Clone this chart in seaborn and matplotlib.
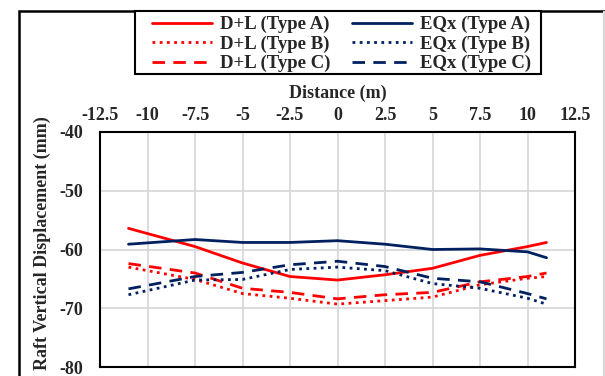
import matplotlib
matplotlib.use("Agg")
import matplotlib.pyplot as plt
import seaborn as sns
import pandas as pd
from matplotlib.patches import Rectangle

sns.set_theme(style="white")
plt.rcParams["font.family"] = ["Liberation Serif", "DejaVu Serif"]
plt.rcParams["font.weight"] = "bold"
plt.rcParams["axes.unicode_minus"] = False

# Distance along the raft (m)
distance = [-11, -7.5, -5, -2.5, 0, 2.5, 5, 7.5, 10, 11]

# Raft vertical displacement (mm)
dl_type_a = [-56.4, -59.5, -62.3, -64.6, -65.2, -64.3, -63.2, -61.0, -59.5, -58.8]
dl_type_b = [-63.0, -65.1, -67.5, -68.3, -69.3, -68.7, -68.1, -66.0, -64.9, -64.6]
dl_type_c = [-62.4, -64.0, -66.6, -67.3, -68.4, -67.7, -67.3, -65.5, -64.6, -64.0]
eqx_type_a = [-59.1, -58.3, -58.8, -58.8, -58.5, -59.1, -60.0, -59.9, -60.4, -61.4]
eqx_type_b = [-67.7, -65.2, -65.1, -63.4, -63.0, -63.6, -65.8, -66.6, -68.3, -69.3]
eqx_type_c = [-66.7, -64.6, -63.9, -62.6, -62.0, -62.9, -64.9, -65.5, -67.5, -68.4]

x_ticks = [-12.5, -10, -7.5, -5, -2.5, 0, 2.5, 5, 7.5, 10, 12.5]
y_ticks = [-80, -70, -60, -50, -40]

RED = "#FF0000"
NAVY = "#002060"
DOT = (0, (1, 1.6))
DASH = (0, (4.5, 3))

# Listed column by column for the two-column legend
series = [
    ("D+L (Type A)", dl_type_a, RED, "-"),
    ("D+L (Type B)", dl_type_b, RED, DOT),
    ("D+L (Type C)", dl_type_c, RED, DASH),
    ("EQx (Type A)", eqx_type_a, NAVY, "-"),
    ("EQx (Type B)", eqx_type_b, NAVY, DOT),
    ("EQx (Type C)", eqx_type_c, NAVY, DASH),
]

FS = 13
W, H = 605, 376
fig = plt.figure(figsize=(W / 100, H / 100), dpi=100)
ax = fig.add_axes([100 / W, 1 - 367 / H, 475 / W, 235 / H])

for name, vals, color, ls in series:
    df = pd.DataFrame({"Distance": distance, "Disp": vals})
    sns.lineplot(data=df, x="Distance", y="Disp", ax=ax, color=color,
                 linestyle=ls, linewidth=2.0, label=name, sort=False,
                 legend=False)

ax.set_xlim(-12.5, 12.5)
ax.set_ylim(-80, -40)
ax.set_xticks(x_ticks)
ax.set_xticklabels([f"{t:g}" for t in x_ticks])
ax.set_yticks(y_ticks)
ax.set_yticklabels([f"{t:g}" for t in y_ticks])
ax.xaxis.tick_top()
ax.xaxis.set_label_position("top")
ax.tick_params(axis="x", length=0, labelsize=FS, pad=6)
ax.tick_params(axis="y", length=0, labelsize=FS, pad=12)
for lbl in ax.get_xticklabels() + ax.get_yticklabels():
    lbl.set_fontweight("bold")
ax.grid(True, color="#d9d9d9", linewidth=1.3)
for sp in ax.spines.values():
    sp.set_color("black")
    sp.set_linewidth(1.5)
    sp.set_visible(True)

ax.set_xlabel("Distance (m)", fontsize=FS, fontweight="bold", labelpad=6)
ax.set_ylabel("Raft Vertical Displacement (mm)", fontsize=FS,
              fontweight="bold")
ax.yaxis.set_label_coords(-0.104, 0.527)

# Outer chart frame
fig.add_artist(Rectangle((19 / W, -0.1), (604 - 19) / W, 1.1 - 11 / H,
                         transform=fig.transFigure, fill=False,
                         edgecolor="black", linewidth=1.8, zorder=0))
fig.add_artist(Rectangle((604 / W, -0.1), 0.0, 1.1 - 11 / H,
                         transform=fig.transFigure, fill=False,
                         edgecolor="#d9d9d9", linewidth=1.5, zorder=1))

# Legend box
fig.add_artist(Rectangle((135 / W, 1 - 74 / H), (541 - 135) / W, 63 / H,
                         transform=fig.transFigure, facecolor="white",
                         edgecolor="black", linewidth=1.5, zorder=2))

handles, labels = ax.get_legend_handles_labels()
leg = fig.legend(handles, labels, ncol=2, loc="upper left",
                 bbox_to_anchor=(152 / W, 1 - 16 / H),
                 prop={"family": "Liberation Serif", "weight": "bold",
                       "size": 13.5},
                 handlelength=3.2, handletextpad=0.45, columnspacing=1.1,
                 labelspacing=0.12, borderpad=0, frameon=False,
                 borderaxespad=0)
leg.set_zorder(3)

fig.savefig("out.png", dpi=100)
